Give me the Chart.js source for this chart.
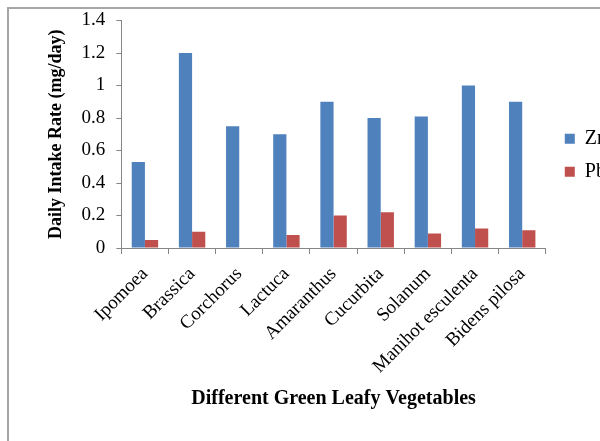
<!DOCTYPE html>
<html>
<head>
<meta charset="utf-8">
<script src="https://cdn.jsdelivr.net/npm/chart.js@4"></script>
<style>
  html, body { margin: 0; padding: 0; background: #fff; overflow: hidden; }
  #frame {
    position: absolute; left: 7px; top: 7px; width: 700px; height: 500px;
    border-left: 2px solid #a6a6a6; border-top: 2px solid #a6a6a6;
  }
  #wrap { position: absolute; left: 0; top: 0; width: 620px; height: 441px; }
</style>
</head>
<body>
<div id="frame"></div>
<div id="wrap"><canvas id="chart"></canvas></div>
<script>
// =========================
// DATA
// =========================
const vegetables = [
  "Ipomoea", "Brassica", "Corchorus", "Lactuca", "Amaranthus",
  "Cucurbita", "Solanum", "Manihot esculenta", "Bidens pilosa",
];
const znValues = [0.53, 1.2, 0.75, 0.7, 0.9, 0.8, 0.81, 1.0, 0.9];
const pbValues = [0.05, 0.1, 0, 0.08, 0.2, 0.22, 0.09, 0.12, 0.11];

const serif = "'Liberation Serif', 'Times New Roman', serif";
const axisGray = "#868686";

// legend sits a little away from the plot, like the Excel original
const legendGap = {
  id: "legendGap",
  afterLayout(chart) {
    const lg = chart.legend;
    if (!lg) return;
    lg.left += 6;
    lg.right += 6;
  },
};

// =========================
// CHART
// =========================
const ctx = document.getElementById("chart").getContext("2d");
new Chart(ctx, {
  type: "bar",
  data: {
    labels: vegetables,
    datasets: [
      {
        label: "Zn",
        data: znValues,
        backgroundColor: "#4F81BD",
        categoryPercentage: 0.56,
        barPercentage: 1,
      },
      {
        label: "Pb",
        data: pbValues,
        backgroundColor: "#C0504D",
        categoryPercentage: 0.56,
        barPercentage: 1,
      },
    ],
  },
  plugins: [legendGap],
  options: {
    responsive: true,
    maintainAspectRatio: false,
    animation: false,
    layout: { padding: { top: 7, left: 33, right: 9, bottom: 30 } },
    scales: {
      x: {
        grid: {
          offset: true,
          drawOnChartArea: false,
          tickLength: 6,
          color: axisGray,
        },
        border: { color: axisGray },
        ticks: {
          minRotation: 45,
          maxRotation: 45,
          color: "#000",
          font: { family: serif, size: 19 },
          padding: 9,
        },
        title: {
          display: true,
          text: "Different Green Leafy Vegetables",
          color: "#000",
          font: { family: serif, size: 20, weight: "bold" },
          padding: { top: 0, bottom: 0 },
        },
      },
      y: {
        min: 0,
        max: 1.4,
        grid: {
          drawOnChartArea: false,
          tickLength: 5,
          color: axisGray,
        },
        border: { color: axisGray },
        ticks: {
          stepSize: 0.2,
          color: "#000",
          font: { family: serif, size: 19, lineHeight: 1 },
          padding: 11,
          callback: (v) => String(Number(v.toFixed(1))),
        },
        title: {
          display: true,
          text: "Daily Intake Rate (mg/day)",
          color: "#000",
          font: { family: serif, size: 18, weight: "bold" },
          padding: { top: 13, bottom: 3 },
        },
      },
    },
    plugins: {
      legend: {
        position: "right",
        fullSize: false,
        labels: {
          boxWidth: 10,
          boxHeight: 10,
          padding: 13,
          color: "#000",
          font: { family: serif, size: 20 },
        },
        title: {
          display: true,
          text: " ",
          font: { size: 20 },
          padding: { top: 18, bottom: 0 },
        },
      },
      tooltip: { enabled: false },
    },
  },
});
</script>
</body>
</html>
